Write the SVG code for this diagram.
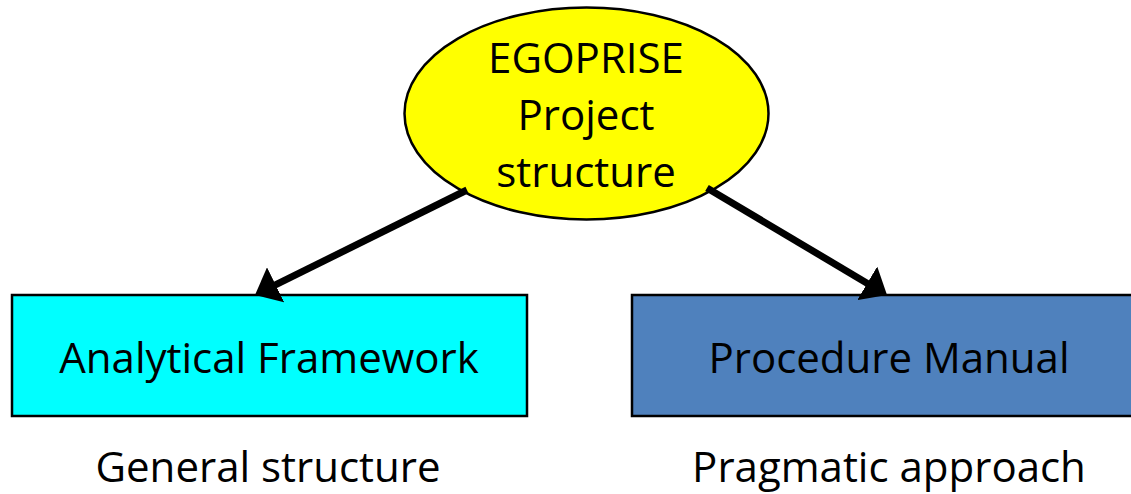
<svg xmlns="http://www.w3.org/2000/svg" width="1131" height="494" viewBox="0 0 1131 494">
<style>
  text { font-family: "Open Sans", "Noto Sans", "Liberation Sans", sans-serif; font-size: 42px; fill: #000; text-anchor: middle; }
  .node { stroke: #000; stroke-width: 2.5; }
  .conn { stroke: #000; stroke-width: 7; fill: none; }
</style>
<defs>
  <marker id="arrow" markerUnits="userSpaceOnUse" viewBox="0 0 23 39" refX="11" refY="19.5" markerWidth="23" markerHeight="39" orient="auto">
    <path d="M0,0 L23,19.5 L0,39 Z" fill="#000"/>
  </marker>
</defs>
<rect width="1131" height="494" fill="#fff"/>
<g id="node-analytical">
  <rect class="node" x="12" y="295" width="515" height="121" fill="#00FFFF"/>
  <text x="269" y="373">Analytical Framework</text>
</g>
<g id="node-procedure">
  <rect class="node" x="632" y="295" width="520" height="121" fill="#4F81BD"/>
  <text x="889" y="373">Procedure Manual</text>
</g>
<g id="node-egoprise">
  <ellipse class="node" cx="586.5" cy="113.5" rx="182" ry="106" fill="#FFFF00"/>
  <text x="586" y="73">EGOPRISE</text>
  <text x="586" y="130">Project</text>
  <text x="586" y="187">structure</text>
</g>
<g id="label-general">
  <text x="268" y="482">General structure</text>
</g>
<g id="label-pragmatic">
  <text x="889" y="482">Pragmatic approach</text>
</g>
<g id="connectors">
  <line class="conn" x1="467" y1="190" x2="265.8" y2="289.7" marker-end="url(#arrow)"/>
  <line class="conn" x1="707" y1="188" x2="876.7" y2="288.9" marker-end="url(#arrow)"/>
</g>
</svg>
